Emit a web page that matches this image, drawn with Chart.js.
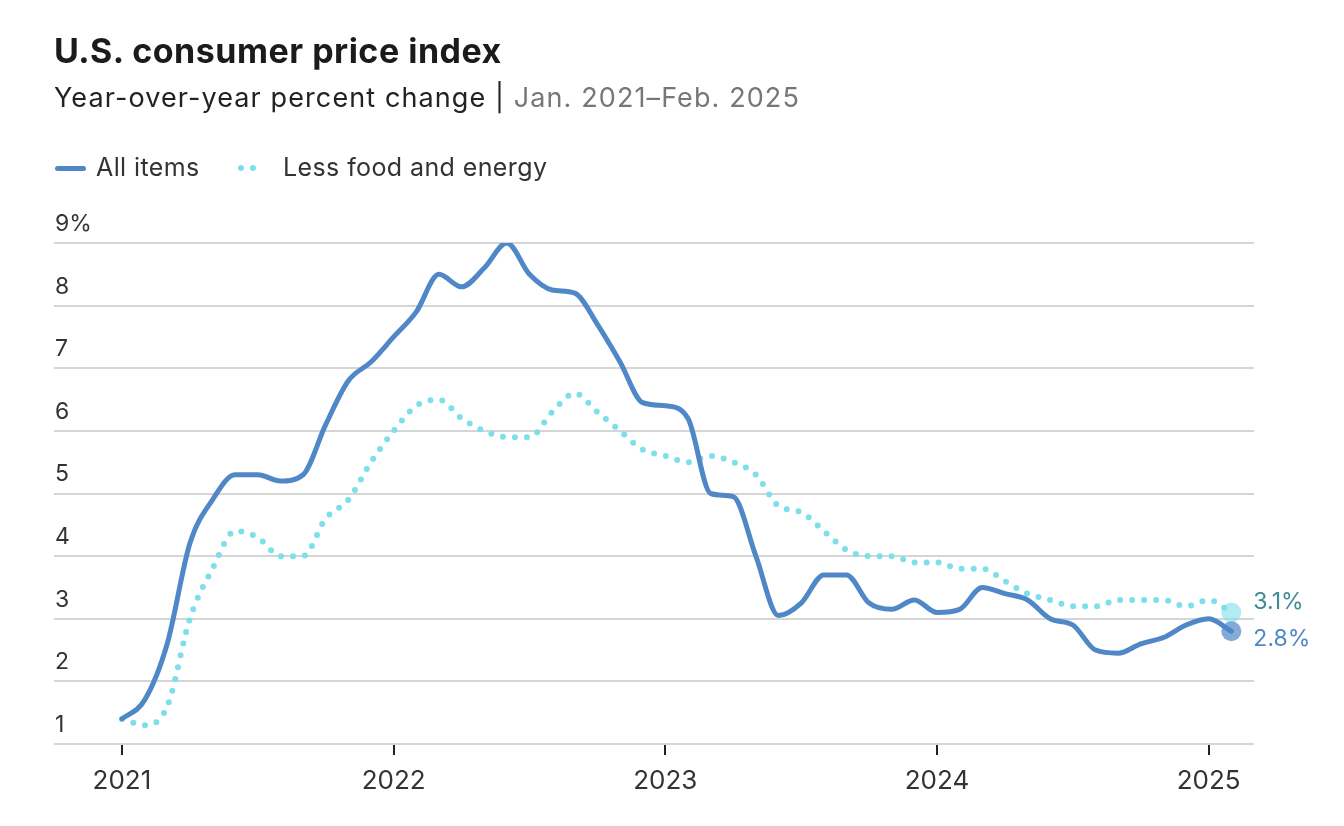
<!DOCTYPE html>
<html>
<head>
<meta charset="utf-8">
<script src="https://cdn.jsdelivr.net/npm/chart.js@4/dist/chart.umd.min.js"></script>
<style>
  html, body { margin: 0; padding: 0; background: #fff; }
  body { width: 1344px; height: 826px; overflow: hidden; font-family: Inter, "Open Sans", sans-serif; }
  #wrap { position: relative; width: 1344px; height: 826px; }
  #chart { position: absolute; left: 0; top: 0; }
  .title { position: absolute; left: 54px; top: 34px; font-size: 34px; font-weight: 700; color: #1b1b1b; line-height: 1; letter-spacing: 0.5px; white-space: nowrap; }
  .sub { position: absolute; left: 54px; top: 84px; font-size: 27px; color: #222; line-height: 1; letter-spacing: 1.1px; white-space: nowrap; }
  .sub .grey { color: #777; }
  .legend { position: absolute; top: 155px; left: 54px; font-size: 25px; color: #333; line-height: 1; height: 26px; width: 700px; white-space: nowrap; letter-spacing: 0.4px; }
  .sw-line { position: absolute; left: 1px; top: 11px; width: 31px; height: 5px; border-radius: 3px; background: #4f87c7; }
  .lab1 { position: absolute; left: 42px; top: 0; }
  .dot { position: absolute; top: 10px; width: 6px; height: 6px; border-radius: 50%; background: #7ddfe9; }
  .lab2 { position: absolute; left: 229px; top: 0; }
</style>
</head>
<body>
<div id="wrap">
  <canvas id="chart" width="1344" height="826"></canvas>
  <div class="title">U.S. consumer price index</div>
  <div class="sub">Year-over-year percent change | <span class="grey">Jan. 2021–Feb. 2025</span></div>
  <div class="legend">
    <div class="sw-line"></div><div class="lab1">All items</div>
    <div class="dot" style="left:184px"></div><div class="dot" style="left:196px"></div>
    <div class="lab2">Less food and energy</div>
  </div>
</div>
<script>
// Month categories (Jan 2021 – Feb 2025)
const months = [
  'Jan 2021','Feb 2021','Mar 2021','Apr 2021','May 2021','Jun 2021','Jul 2021','Aug 2021','Sep 2021','Oct 2021','Nov 2021','Dec 2021',
  'Jan 2022','Feb 2022','Mar 2022','Apr 2022','May 2022','Jun 2022','Jul 2022','Aug 2022','Sep 2022','Oct 2022','Nov 2022','Dec 2022',
  'Jan 2023','Feb 2023','Mar 2023','Apr 2023','May 2023','Jun 2023','Jul 2023','Aug 2023','Sep 2023','Oct 2023','Nov 2023','Dec 2023',
  'Jan 2024','Feb 2024','Mar 2024','Apr 2024','May 2024','Jun 2024','Jul 2024','Aug 2024','Sep 2024','Oct 2024','Nov 2024','Dec 2024',
  'Jan 2025','Feb 2025'
];

// All items CPI, year-over-year %
const allItems = [
  1.4, 1.7, 2.6, 4.2, 4.9, 5.3, 5.3, 5.2, 5.3, 6.1, 6.8, 7.1,
  7.5, 7.9, 8.5, 8.3, 8.6, 9.0, 8.5, 8.25, 8.2, 7.7, 7.1, 6.45,
  6.4, 6.2, 5.0, 4.95, 4.0, 3.05, 3.25, 3.7, 3.7, 3.25, 3.15, 3.3,
  3.1, 3.15, 3.5, 3.4, 3.3, 3.0, 2.9, 2.5, 2.45, 2.6, 2.7, 2.9,
  3.0, 2.8
];

// Less food and energy (core CPI), year-over-year %
const lessFoodEnergy = [
  1.4, 1.3, 1.6, 3.0, 3.8, 4.4, 4.3, 4.0, 4.0, 4.6, 4.9, 5.5,
  6.0, 6.4, 6.5, 6.2, 6.0, 5.9, 5.9, 6.3, 6.6, 6.3, 6.0, 5.7,
  5.6, 5.5, 5.6, 5.5, 5.3, 4.8, 4.7, 4.4, 4.1, 4.0, 4.0, 3.9,
  3.9, 3.8, 3.8, 3.6, 3.4, 3.3, 3.2, 3.2, 3.3, 3.3, 3.3, 3.2,
  3.3, 3.1
];

// Axis tick labels
const yearTicks = ['2021', '2022', '2023', '2024', '2025'];
const yearTickIndex = [0, 12, 24, 36, 48];
const yTicks = [1, 2, 3, 4, 5, 6, 7, 8, 9];

const seriesNames = ['All items', 'Less food and energy'];

const BLUE = '#4f87c7';
const CYAN = '#7ddfe9';
const FONT = 'Inter, "Open Sans", sans-serif';

const toPoints = arr => arr.map((v, i) => ({ x: i, y: v }));
const lastIdx = months.length - 1;

const endLabels = {
  id: 'endLabels',
  afterDatasetsDraw(chart) {
    const { ctx, scales: { x, y } } = chart;
    const cfg = [
      { ds: 1, color: '#3d8b98', dy: -10 },
      { ds: 0, color: BLUE, dy: 8 }
    ];
    ctx.save();
    ctx.font = '23px ' + FONT;
    ctx.textAlign = 'left';
    ctx.textBaseline = 'middle';
    cfg.forEach(c => {
      const v = chart.data.datasets[c.ds].data[lastIdx].y;
      const px = x.getPixelForValue(lastIdx) + 22;
      const py = y.getPixelForValue(v) + c.dy;
      ctx.fillStyle = c.color;
      ctx.fillText(v.toFixed(1) + '%', px, py);
    });
    ctx.restore();
  }
};

new Chart(document.getElementById('chart'), {
  type: 'line',
  data: {
    datasets: [
      {
        label: seriesNames[0],
        data: toPoints(allItems),
        borderColor: BLUE,
        borderWidth: 5,
        borderCapStyle: 'round',
        borderJoinStyle: 'round',
        cubicInterpolationMode: 'monotone',
        pointRadius: ctx => ctx.dataIndex === lastIdx ? 10 : 0,
        pointBackgroundColor: 'rgba(79,135,199,0.7)',
        pointBorderWidth: 0,
        pointHoverRadius: 0,
        fill: false
      },
      {
        label: seriesNames[1],
        data: toPoints(lessFoodEnergy),
        borderColor: CYAN,
        borderWidth: 6,
        borderDash: [0, 12],
        borderCapStyle: 'round',
        cubicInterpolationMode: 'monotone',
        pointRadius: ctx => ctx.dataIndex === lastIdx ? 10 : 0,
        pointBackgroundColor: 'rgba(125,223,233,0.6)',
        pointBorderWidth: 0,
        pointHoverRadius: 0,
        fill: false
      }
    ]
  },
  options: {
    responsive: false,
    animation: false,
    devicePixelRatio: 1,
    layout: { padding: { left: 54, right: 90, top: 243, bottom: 0 } },
    plugins: { legend: { display: false }, tooltip: { enabled: false } },
    scales: {
      x: {
        type: 'linear',
        min: -3,
        max: 50,
        afterBuildTicks: s => { s.ticks = yearTickIndex.map(v => ({ value: v })); },
        afterFit: s => { s.height = 82; },
        grid: { display: true, drawOnChartArea: false, drawTicks: true, tickLength: 11, color: '#222', lineWidth: 2 },
        border: { display: false },
        ticks: {
          callback: (v, i) => yearTicks[i],
          font: { family: FONT, size: 26 },
          color: '#333',
          padding: 11,
          maxRotation: 0,
          autoSkip: false
        }
      },
      y: {
        min: 1,
        max: 9,
        afterBuildTicks: s => { s.ticks = yTicks.map(v => ({ value: v })); },
        afterFit: s => { s.width = 0; },
        grid: { color: '#d5d5d5', lineWidth: 2, drawTicks: false },
        border: { display: false },
        ticks: {
          mirror: true,
          padding: 1,
          labelOffset: -19,
          callback: v => v === 9 ? '9%' : String(v),
          font: { family: FONT, size: 23 },
          color: '#333'
        }
      }
    }
  },
  plugins: [endLabels]
});
</script>
</body>
</html>
